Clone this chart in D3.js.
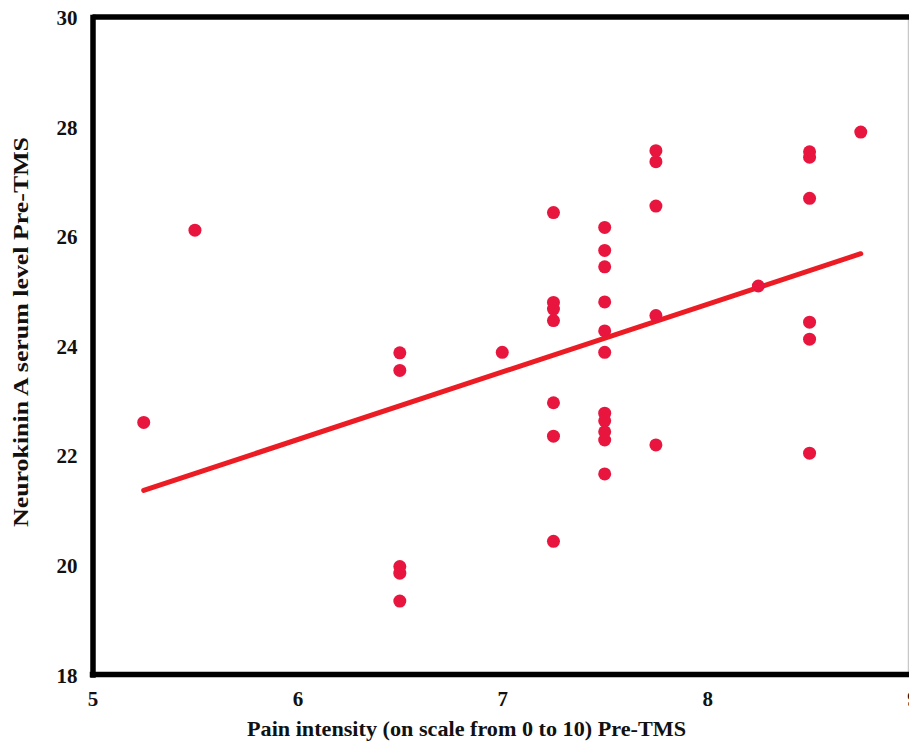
<!DOCTYPE html>
<html>
<head>
<meta charset="utf-8">
<script src="https://cdn.jsdelivr.net/npm/d3@7"></script>
<style>
  html, body { margin: 0; padding: 0; background: #fff; }
  svg { display: block; }
  text { font-family: "Liberation Serif", "Times New Roman", serif; font-weight: bold; fill: #111; }
</style>
</head>
<body>
<div id="chart"></div>
<script>
// data
var painX = [5.25, 5.5,
  6.5, 6.5, 6.5, 6.5, 6.5,
  7.0,
  7.25, 7.25, 7.25, 7.25, 7.25, 7.25, 7.25,
  7.5, 7.5, 7.5, 7.5, 7.5, 7.5, 7.5, 7.5, 7.5, 7.5, 7.5,
  7.75, 7.75, 7.75, 7.75, 7.75,
  8.25,
  8.5, 8.5, 8.5, 8.5, 8.5, 8.5,
  8.75];
var nkaY = [22.60, 26.11,
  23.87, 23.55, 19.97, 19.85, 19.34,
  23.88,
  26.43, 24.79, 24.67, 24.46, 22.96, 22.35, 20.43,
  26.16, 25.74, 25.44, 24.80, 24.27, 23.88, 22.77, 22.63, 22.43, 22.28, 21.66,
  27.56, 27.36, 26.55, 24.55, 22.19,
  25.09,
  27.54, 27.44, 26.69, 24.43, 24.12, 22.04,
  27.90];
var trendX = [5.25, 8.75];
var trendY = [21.36, 25.68];
var xTicks = [5, 6, 7, 8, 9];
var yTicks = [18, 20, 22, 24, 26, 28, 30];

var width = 909, height = 744;
// plot box edges (pixels)
var plotLeft = 92.5, plotRight = 912, plotTop = 17, plotBottom = 674.5;

var svg = d3.select('#chart').append('svg')
  .attr('width', width)
  .attr('height', height);

var x = d3.scaleLinear().domain([5, 9]).range([plotLeft, plotRight]);
var y = d3.scaleLinear().domain([18, 30]).range([plotBottom, plotTop]);

// thin grey right border
svg.append('line')
  .attr('x1', 908.5).attr('x2', 908.5)
  .attr('y1', y(30)).attr('y2', y(18))
  .attr('stroke', '#c8c8c8')
  .attr('stroke-width', 1.5);

// thick top border
svg.append('line')
  .attr('x1', x(5)).attr('x2', width)
  .attr('y1', y(30)).attr('y2', y(30))
  .attr('stroke', '#000')
  .attr('stroke-width', 5.5);

var xAxis = svg.append('g')
  .attr('transform', 'translate(0,' + plotBottom + ')')
  .call(d3.axisBottom(x).tickValues(xTicks).tickFormat(d3.format('d'))
    .tickSize(0).tickSizeOuter(0).tickPadding(17));

var yAxis = svg.append('g')
  .attr('transform', 'translate(' + plotLeft + ',0)')
  .call(d3.axisLeft(y).tickValues(yTicks).tickFormat(d3.format('d'))
    .tickSize(0).tickSizeOuter(0).tickPadding(15));

[xAxis, yAxis].forEach(function (g) {
  g.select('.domain')
    .attr('stroke', '#000')
    .attr('stroke-width', 5.5)
    .attr('stroke-linecap', 'square');
  g.selectAll('.tick text')
    .attr('font-size', 21)
    .attr('font-family', '"Liberation Serif", "Times New Roman", serif')
    .attr('font-weight', 'bold')
    .attr('fill', '#111');
});
xAxis.select('.domain').attr('d', 'M' + plotLeft + ',0H' + width);
yAxis.selectAll('.tick text').attr('dy', '0.36em');

// trend line
svg.append('path')
  .datum(trendX.map(function (d, i) { return [d, trendY[i]]; }))
  .attr('fill', 'none')
  .attr('stroke', '#ec1c24')
  .attr('stroke-width', 5)
  .attr('stroke-linecap', 'round')
  .attr('d', d3.line()
    .x(function (d) { return x(d[0]); })
    .y(function (d) { return y(d[1]); }));

// points
svg.selectAll('circle.pt')
  .data(painX.map(function (d, i) { return { x: d, y: nkaY[i] }; }))
  .enter().append('circle')
  .attr('class', 'pt')
  .attr('cx', function (d) { return x(d.x); })
  .attr('cy', function (d) { return y(d.y); })
  .attr('r', 6.5)
  .attr('fill', '#e8163e');

// axis titles
svg.append('text')
  .attr('x', 466.5)
  .attr('y', 736)
  .attr('text-anchor', 'middle')
  .attr('font-size', 22)
  .attr('textLength', 439)
  .attr('lengthAdjust', 'spacingAndGlyphs')
  .text('Pain intensity (on scale from 0 to 10) Pre-TMS');

svg.append('text')
  .attr('transform', 'rotate(-90)')
  .attr('x', -332)
  .attr('y', 27.5)
  .attr('text-anchor', 'middle')
  .attr('font-size', 22)
  .attr('textLength', 390)
  .attr('lengthAdjust', 'spacingAndGlyphs')
  .text('Neurokinin A serum level Pre-TMS');
</script>
</body>
</html>
